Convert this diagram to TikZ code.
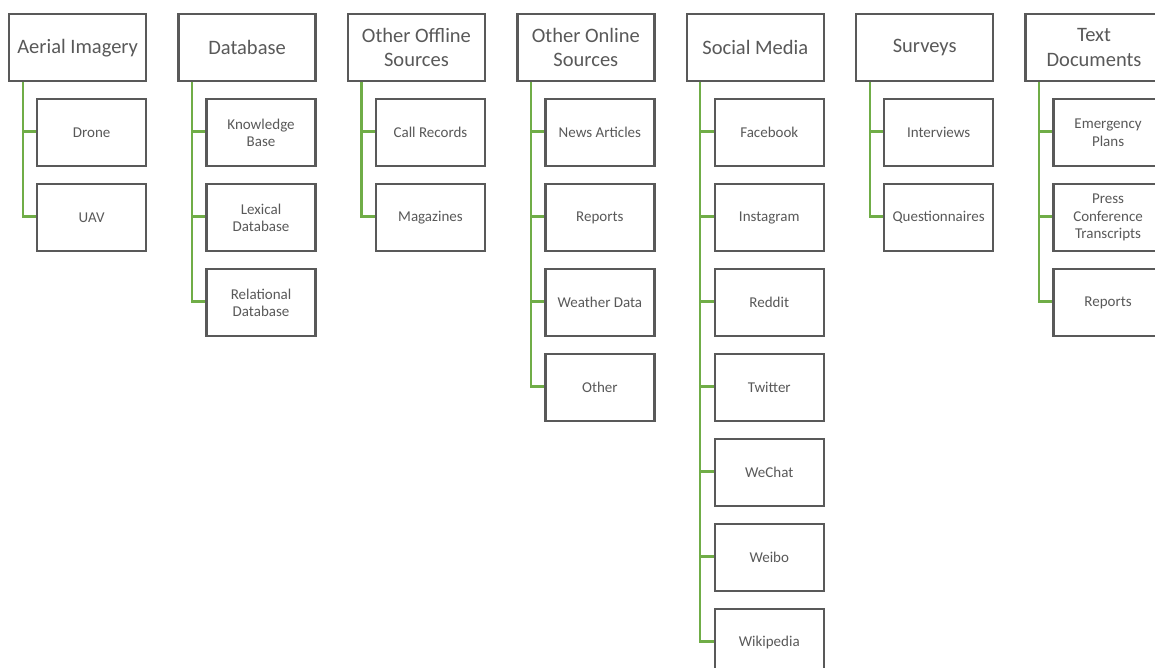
\documentclass[tikz,border=0pt]{standalone}
\usepackage{fontspec}
\setmainfont{Carlito}
\usetikzlibrary{calc}
\definecolor{boxline}{HTML}{595959}
\definecolor{txt}{HTML}{595959}
\definecolor{conngreen}{HTML}{70AD47}
\tikzset{
  topbox/.style={draw=boxline, line width=2.3pt, fill=white, anchor=north west,
    minimum width=137pt, minimum height=67pt, inner sep=1pt, align=center,
    text=txt, font=\fontsize{20.5}{24.3}\selectfont},
  kidbox/.style={draw=boxline, line width=2.3pt, fill=white, anchor=north west,
    minimum width=109pt, minimum height=67pt, inner sep=1pt, align=center,
    text=txt, font=\fontsize{15}{17.5}\selectfont},
  conn/.style={draw=conngreen, line width=2.2pt}
}
\newcommand\mkcol[2]{\node[topbox] (t#1) at ({8+169.4*#1},13) {#2};}
\newcommand\mkkid[4]{%
  \draw[conn] ($(t#1.south west)+(14.7,0)$) |- ($({8+169.4*#1+28},{98+85*(#2)+33.5})$) coordinate (e#3);
  \node[kidbox] (#3) at ({8+169.4*#1+28},{98+85*(#2)}) {#4};}
\begin{document}
\begin{tikzpicture}[x=1pt,y=-1pt]
\useasboundingbox (0,0) rectangle (1155,668);
\clip (0,0) rectangle (1155,668);
\fill[white] (0,0) rectangle (1155,668);
\mkcol{0}{Aerial Imagery}
\mkcol{1}{Database}
\mkcol{2}{Other Offline\\Sources}
\mkcol{3}{Other Online\\Sources}
\mkcol{4}{Social Media}
\mkcol{5}{Surveys}
\mkcol{6}{Text\\Documents}
\mkkid{0}{0}{drone}{Drone}
\mkkid{0}{1}{uav}{UAV}
\mkkid{1}{0}{kb}{Knowledge\\Base}
\mkkid{1}{1}{lexdb}{Lexical\\Database}
\mkkid{1}{2}{reldb}{Relational\\Database}
\mkkid{2}{0}{call}{Call Records}
\mkkid{2}{1}{mag}{Magazines}
\mkkid{3}{0}{news}{News Articles}
\mkkid{3}{1}{rep}{Reports}
\mkkid{3}{2}{weather}{Weather Data}
\mkkid{3}{3}{other}{Other}
\mkkid{4}{0}{fb}{Facebook}
\mkkid{4}{1}{ig}{Instagram}
\mkkid{4}{2}{reddit}{Reddit}
\mkkid{4}{3}{tw}{Twitter}
\mkkid{4}{4}{wechat}{WeChat}
\mkkid{4}{5}{weibo}{Weibo}
\mkkid{4}{6}{wiki}{Wikipedia}
\mkkid{5}{0}{interv}{Interviews}
\mkkid{5}{1}{quest}{Questionnaires}
\mkkid{6}{0}{emerg}{Emergency\\Plans}
\mkkid{6}{1}{press}{Press\\Conference\\Transcripts}
\mkkid{6}{2}{trep}{Reports}
\end{tikzpicture}
\end{document}
